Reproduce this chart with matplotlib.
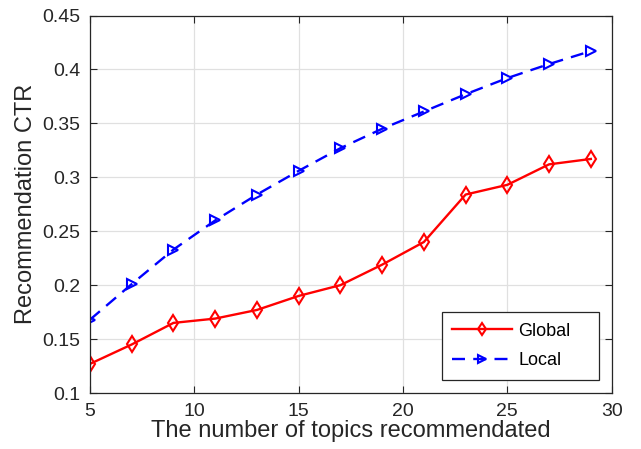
import matplotlib
matplotlib.use('Agg')
import matplotlib.pyplot as plt

plt.rcParams['font.family'] = ['Liberation Sans', 'DejaVu Sans']

# data
topics = [5, 7, 9, 11, 13, 15, 17, 19, 21, 23, 25, 27, 29]
global_ctr = [0.127, 0.145, 0.165, 0.169, 0.177, 0.190, 0.200, 0.219, 0.240, 0.284, 0.293, 0.312, 0.317]
local_ctr = [0.168, 0.201, 0.233, 0.260, 0.284, 0.306, 0.327, 0.345, 0.361, 0.377, 0.392, 0.405, 0.417]
x_ticks = [5, 10, 15, 20, 25, 30]
y_ticks = [0.1, 0.15, 0.2, 0.25, 0.3, 0.35, 0.4, 0.45]
y_tick_labels = ['0.1', '0.15', '0.2', '0.25', '0.3', '0.35', '0.4', '0.45']

fig = plt.figure(figsize=(6.41, 4.49), dpi=100)
ax = fig.add_axes([90 / 641, 1 - 393 / 449, (611.7 - 90) / 641, (393 - 15.5) / 449])

ax.plot(topics, global_ctr, color='red', linestyle='-', linewidth=1.7,
        marker='d', markersize=8, markerfacecolor='none', markeredgewidth=1.5,
        label='Global')
ax.plot(topics, local_ctr, color='blue', linestyle=(0, (5.5, 3.5)), linewidth=1.7,
        marker='>', markersize=6.5, markerfacecolor='none', markeredgewidth=1.5,
        label='Local')

ax.set_xlim(5, 30)
ax.set_ylim(0.1, 0.45)
ax.set_xticks(x_ticks)
ax.set_yticks(y_ticks)
ax.set_yticklabels(y_tick_labels)
ax.grid(True, color='#e0e0e0', linewidth=0.9)
ax.set_axisbelow(True)
ax.tick_params(direction='in', top=True, right=True, length=5, width=0.8,
               labelsize=14, colors='#262626', pad=7)
for s in ax.spines.values():
    s.set_color('#262626')
    s.set_linewidth(0.9)

ax.set_xlabel('The number of topics recommendated', fontsize=17, color='#262626', labelpad=0)
ax.set_ylabel('Recommendation CTR', fontsize=17, color='#262626', labelpad=4)

# legend box stretched like the matlab one
leg = ax.legend(loc='lower left', fontsize=13, fancybox=False, edgecolor='#262626',
                framealpha=1, handlelength=3.3, borderpad=0.6, labelspacing=0.7,
                handletextpad=0.35, mode='expand', borderaxespad=0,
                bbox_to_anchor=(0.674, 0.034, 0.302, 0.186), markerscale=0.8)
leg.get_frame().set_linewidth(0.9)
for t in leg.get_texts():
    t.set_color('black')

fig.savefig('out.png', dpi=100)
